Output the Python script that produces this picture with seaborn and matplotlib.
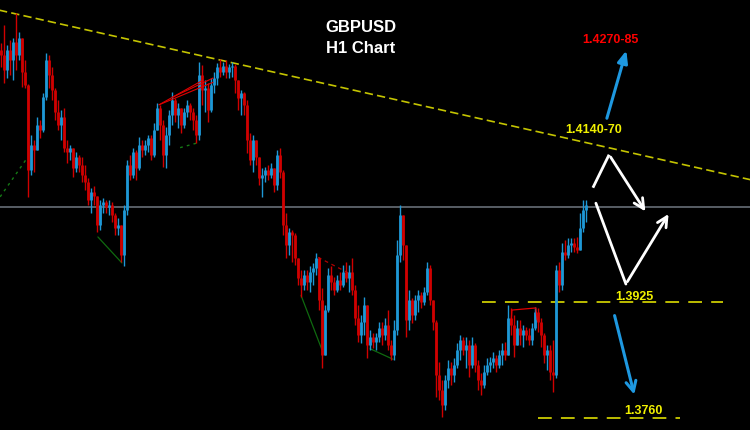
import matplotlib
matplotlib.use("Agg")
import matplotlib.pyplot as plt
import seaborn as sns
import numpy as np

# GBPUSD H1 - precos
first_open = 1.4284
closes = [
    1.4277, 1.4255, 1.4284, 1.4270, 1.4295, 1.4277, 1.4301, 1.4252, 1.4234, 1.4113,
    1.4149, 1.4142, 1.4177, 1.4170, 1.4217, 1.4270, 1.4248, 1.4227, 1.4196, 1.4177,
    1.4188, 1.4145, 1.4139, 1.4145, 1.4116, 1.4131, 1.4120, 1.4106, 1.4096, 1.4071,
    1.4082, 1.4076, 1.4035, 1.4064, 1.4068, 1.4060, 1.4064, 1.4049, 1.4031, 1.4035,
    1.3992, 1.4056, 1.4120, 1.4106, 1.4139, 1.4116, 1.4149, 1.4142, 1.4149, 1.4159,
    1.4135, 1.4170, 1.4202, 1.4177, 1.4135, 1.4163, 1.4192, 1.4213, 1.4192, 1.4202,
    1.4177, 1.4196, 1.4206, 1.4196, 1.4184, 1.4163, 1.4248, 1.4227, 1.4230, 1.4199,
    1.4234, 1.4244, 1.4259, 1.4252, 1.4261, 1.4252, 1.4259, 1.4261, 1.4241, 1.4216,
    1.4223, 1.4206, 1.4156, 1.4127, 1.4156, 1.4131, 1.4102, 1.4106, 1.4113, 1.4106,
    1.4116, 1.4092, 1.4135, 1.4110, 1.4035, 1.4007, 1.4025, 1.4021, 1.3988, 1.3960,
    1.3950, 1.3964, 1.3954, 1.3968, 1.3974, 1.3988, 1.3928, 1.3850, 1.3914, 1.3964,
    1.3954, 1.3942, 1.3957, 1.3950, 1.3968, 1.3960, 1.3968, 1.3942, 1.3903, 1.3879,
    1.3897, 1.3921, 1.3864, 1.3875, 1.3868, 1.3875, 1.3889, 1.3879, 1.3893, 1.3864,
    1.3850, 1.3886, 1.3992, 1.4049, 1.4007, 1.3900, 1.3928, 1.3907, 1.3928, 1.3935,
    1.3925, 1.3939, 1.3974, 1.3928, 1.3897, 1.3822, 1.3800, 1.3779, 1.3814, 1.3832,
    1.3822, 1.3836, 1.3857, 1.3871, 1.3857, 1.3864, 1.3836, 1.3864, 1.3836, 1.3814,
    1.3807, 1.3826, 1.3836, 1.3840, 1.3846, 1.3836, 1.3850, 1.3857, 1.3850, 1.3903,
    1.3893, 1.3864, 1.3889, 1.3879, 1.3886, 1.3879, 1.3871, 1.3889, 1.3911, 1.3897,
    1.3879, 1.3850, 1.3857, 1.3826, 1.3822, 1.3971, 1.3950, 1.3996, 1.3992, 1.4007,
    1.4010, 1.4003, 1.3999, 1.4031, 1.4056, 1.4064,
]
highs = [
    1.4294, 1.4320, 1.4291, 1.4298, 1.4301, 1.4337, 1.4309, 1.4301, 1.4270, 1.4235,
    1.4163, 1.4156, 1.4188, 1.4184, 1.4223, 1.4280, 1.4277, 1.4259, 1.4230, 1.4213,
    1.4199, 1.4202, 1.4156, 1.4149, 1.4142, 1.4139, 1.4135, 1.4132, 1.4120, 1.4102,
    1.4088, 1.4090, 1.4074, 1.4071, 1.4074, 1.4071, 1.4071, 1.4067, 1.4052, 1.4045,
    1.4032, 1.4064, 1.4127, 1.4135, 1.4145, 1.4142, 1.4160, 1.4156, 1.4156, 1.4163,
    1.4163, 1.4180, 1.4209, 1.4206, 1.4184, 1.4174, 1.4199, 1.4224, 1.4216, 1.4209,
    1.4199, 1.4202, 1.4213, 1.4209, 1.4202, 1.4192, 1.4267, 1.4263, 1.4241, 1.4237,
    1.4244, 1.4252, 1.4266, 1.4271, 1.4267, 1.4270, 1.4264, 1.4267, 1.4264, 1.4241,
    1.4227, 1.4224, 1.4213, 1.4166, 1.4163, 1.4156, 1.4131, 1.4116, 1.4118, 1.4120,
    1.4123, 1.4116, 1.4142, 1.4145, 1.4113, 1.4052, 1.4031, 1.4028, 1.4024, 1.3985,
    1.3971, 1.3971, 1.3971, 1.3976, 1.3981, 1.3995, 1.3990, 1.3946, 1.3921, 1.3974,
    1.3976, 1.3961, 1.3964, 1.3968, 1.3978, 1.3982, 1.3978, 1.3988, 1.3950, 1.3921,
    1.3907, 1.3932, 1.3921, 1.3886, 1.3882, 1.3882, 1.3897, 1.3897, 1.3903, 1.3914,
    1.3871, 1.3900, 1.4014, 1.4064, 1.4049, 1.4003, 1.3942, 1.3931, 1.3935, 1.3942,
    1.3939, 1.3947, 1.3982, 1.3978, 1.3928, 1.3900, 1.3840, 1.3814, 1.3822, 1.3843,
    1.3840, 1.3846, 1.3867, 1.3879, 1.3875, 1.3875, 1.3871, 1.3875, 1.3867, 1.3843,
    1.3825, 1.3836, 1.3846, 1.3847, 1.3854, 1.3850, 1.3857, 1.3867, 1.3868, 1.3921,
    1.3917, 1.3907, 1.3900, 1.3900, 1.3893, 1.3890, 1.3889, 1.3896, 1.3918, 1.3917,
    1.3903, 1.3882, 1.3864, 1.3864, 1.3871, 1.3978, 1.3982, 1.4010, 1.4014, 1.4017,
    1.4017, 1.4017, 1.4018, 1.4052, 1.4071, 1.4071,
]
lows = [
    1.4260, 1.4237, 1.4244, 1.4248, 1.4241, 1.4255, 1.4270, 1.4231, 1.4230, 1.4075,
    1.4106, 1.4110, 1.4142, 1.4159, 1.4167, 1.4213, 1.4230, 1.4213, 1.4184, 1.4170,
    1.4156, 1.4139, 1.4123, 1.4127, 1.4103, 1.4110, 1.4110, 1.4096, 1.4085, 1.4064,
    1.4052, 1.4064, 1.4025, 1.4028, 1.4052, 1.4052, 1.4049, 1.4039, 1.4021, 1.4021,
    1.3982, 1.3976, 1.4049, 1.4099, 1.4102, 1.4099, 1.4113, 1.4131, 1.4135, 1.4139,
    1.4127, 1.4131, 1.4170, 1.4156, 1.4117, 1.4116, 1.4149, 1.4177, 1.4181, 1.4173,
    1.4166, 1.4173, 1.4189, 1.4184, 1.4170, 1.4152, 1.4156, 1.4206, 1.4195, 1.4181,
    1.4196, 1.4223, 1.4234, 1.4245, 1.4248, 1.4244, 1.4244, 1.4245, 1.4223, 1.4199,
    1.4192, 1.4192, 1.4138, 1.4120, 1.4110, 1.4120, 1.4092, 1.4075, 1.4096, 1.4099,
    1.4102, 1.4082, 1.4085, 1.4102, 1.4021, 1.3988, 1.3992, 1.3982, 1.3978, 1.3950,
    1.3933, 1.3942, 1.3942, 1.3939, 1.3950, 1.3964, 1.3914, 1.3832, 1.3850, 1.3911,
    1.3942, 1.3935, 1.3939, 1.3942, 1.3947, 1.3954, 1.3939, 1.3935, 1.3893, 1.3868,
    1.3867, 1.3879, 1.3846, 1.3857, 1.3860, 1.3857, 1.3868, 1.3864, 1.3871, 1.3857,
    1.3843, 1.3843, 1.3879, 1.3982, 1.3985, 1.3876, 1.3886, 1.3896, 1.3900, 1.3911,
    1.3917, 1.3921, 1.3935, 1.3921, 1.3886, 1.3790, 1.3786, 1.3762, 1.3772, 1.3803,
    1.3807, 1.3811, 1.3832, 1.3843, 1.3850, 1.3832, 1.3819, 1.3832, 1.3826, 1.3800,
    1.3793, 1.3803, 1.3822, 1.3826, 1.3832, 1.3826, 1.3832, 1.3836, 1.3843, 1.3857,
    1.3879, 1.3847, 1.3864, 1.3864, 1.3861, 1.3871, 1.3864, 1.3864, 1.3886, 1.3883,
    1.3861, 1.3839, 1.3829, 1.3814, 1.3797, 1.3818, 1.3939, 1.3942, 1.3985, 1.3988,
    1.3996, 1.3996, 1.3995, 1.3999, 1.4025, 1.4039,
]

# niveis e textos do grafico
current_price = 1.4061
support_1 = 1.3925
support_2 = 1.3760
resist_label = "1.4140-70"
target_label = "1.4270-85"

# cores
BULL = "#1e98d6"
BEAR = "#d00000"
YELLOW = "#f0f000"

sns.set_theme(style="dark", rc={
    "axes.facecolor": "black",
    "figure.facecolor": "black",
    "axes.grid": False,
})
plt.rcParams["font.family"] = ["Liberation Sans", "DejaVu Sans"]

closes = np.array(closes)
highs = np.array(highs)
lows = np.array(lows)
opens = np.concatenate([[first_open], closes[:-1]])
idx = np.arange(len(closes))
cores = np.where(closes >= opens, BULL, BEAR)

fig = plt.figure(figsize=(7.5, 4.3), dpi=100)
ax = fig.add_axes([0, 0, 1, 1])
ax.set_facecolor("black")

# linha do preco atual
ax.axhline(current_price, color="#707880", lw=1.1, zorder=1)

# candles (pavio + corpo)
top = np.maximum(highs, np.maximum(opens, closes))
bot = np.minimum(lows, np.minimum(opens, closes))
ax.vlines(idx, bot, top, colors=cores, lw=1.0, zorder=3)
ax.vlines(idx, np.minimum(opens, closes), np.maximum(opens, closes), colors=cores, lw=2.0, zorder=3)

# linha de tendencia (resistencia)
ax.plot([-5, 255], [1.43448, 1.40944], color="#c4c400", lw=1.2, ls=(0, (5, 2.5)), zorder=2)

# linhas desenhadas no grafico
ax.plot([52.7, 67.3], [1.4206, 1.4241], color="#e00000", lw=0.8, zorder=4)
ax.plot([57.3, 70.7], [1.4217, 1.4244], color="#e00000", lw=0.8, zorder=4)
ax.plot([52.7, 70.7], [1.4206, 1.4238], color="#e00000", lw=0.8, zorder=4)
ax.plot([-0.3, 9.0], [1.4075, 1.4132], color="#157a15", lw=1.0, ls=(0, (2, 3)), zorder=2)
ax.plot([59.7, 65.7], [1.4145, 1.4152], color="#157a15", lw=1.0, ls=(0, (2, 3)), zorder=2)
ax.plot([32.3, 40.3], [1.4018, 1.3981], color="#0f6a0f", lw=0.9, zorder=2)
ax.plot([100.0, 107.3], [1.3935, 1.3854], color="#0f6a0f", lw=0.9, zorder=2)
ax.plot([123.0, 130.7], [1.3859, 1.3844], color="#0f6a0f", lw=0.9, zorder=2)
ax.plot([105.7, 115.7], [1.3989, 1.3967], color="#b00000", lw=0.9, ls=(0, (3, 3)), zorder=2)
ax.plot([170.0, 170.3, 178.3, 178.7], [1.3893, 1.3914, 1.3917, 1.3900], color="#e00000", lw=0.9, zorder=4)

# suportes
ax.hlines(support_1, 160.3, 240.7, color=YELLOW, lw=1.1, ls=(0, (9, 6)), zorder=2)
ax.hlines(support_2, 179.0, 226.3, color=YELLOW, lw=1.1, ls=(0, (9, 6)), zorder=2)

# setas
ax.annotate("", xy=(208.7, 1.4287), xytext=(201.7, 1.4183),
            arrowprops=dict(arrowstyle="-|>,head_length=0.6,head_width=0.25", color="#1e98e0", lw=2.2))
ax.annotate("", xy=(211.3, 1.3790), xytext=(204.3, 1.3910),
            arrowprops=dict(arrowstyle="->,head_length=0.6,head_width=0.3", color="#1e98e0", lw=2.2))
ax.plot([197.3, 202.7], [1.4088, 1.4135], color="white", lw=2.0, solid_capstyle="butt", zorder=5)
ax.annotate("", xy=(215.3, 1.4051), xytext=(202.7, 1.4135),
            arrowprops=dict(arrowstyle="->,head_length=0.6,head_width=0.3", color="white", lw=2.0))
ax.plot([198.3, 208.3], [1.4066, 1.3951], color="white", lw=2.0, zorder=5)
ax.annotate("", xy=(223.0, 1.4054), xytext=(208.3, 1.3951),
            arrowprops=dict(arrowstyle="->,head_length=0.6,head_width=0.3", color="white", lw=2.0))

# textos
ax.text(211.0, 1.3933, f"{support_1:.4f}", color=YELLOW, fontsize=9, fontweight="bold", ha="center", va="center")
ax.text(214.3, 1.3770, f"{support_2:.4f}", color=YELLOW, fontsize=9, fontweight="bold", ha="center", va="center")
ax.text(197.7, 1.4170, resist_label, color=YELLOW, fontsize=9, fontweight="bold", ha="center", va="center")
ax.text(203.3, 1.4298, target_label, color="#ff0000", fontsize=9, fontweight="bold", ha="center", va="center")
ax.text(0.481, 0.935, "GBPUSD", color="white", fontsize=12, fontweight="bold",
        ha="center", va="center", transform=ax.transAxes)
ax.text(0.481, 0.888, "H1 Chart", color="white", fontsize=12, fontweight="bold",
        ha="center", va="center", transform=ax.transAxes)

ax.set_xlim(-1 / 3, 249.667)
ax.set_ylim(1.37434, 1.4355)
ax.axis("off")

fig.savefig("out.png", dpi=100, facecolor="black")
